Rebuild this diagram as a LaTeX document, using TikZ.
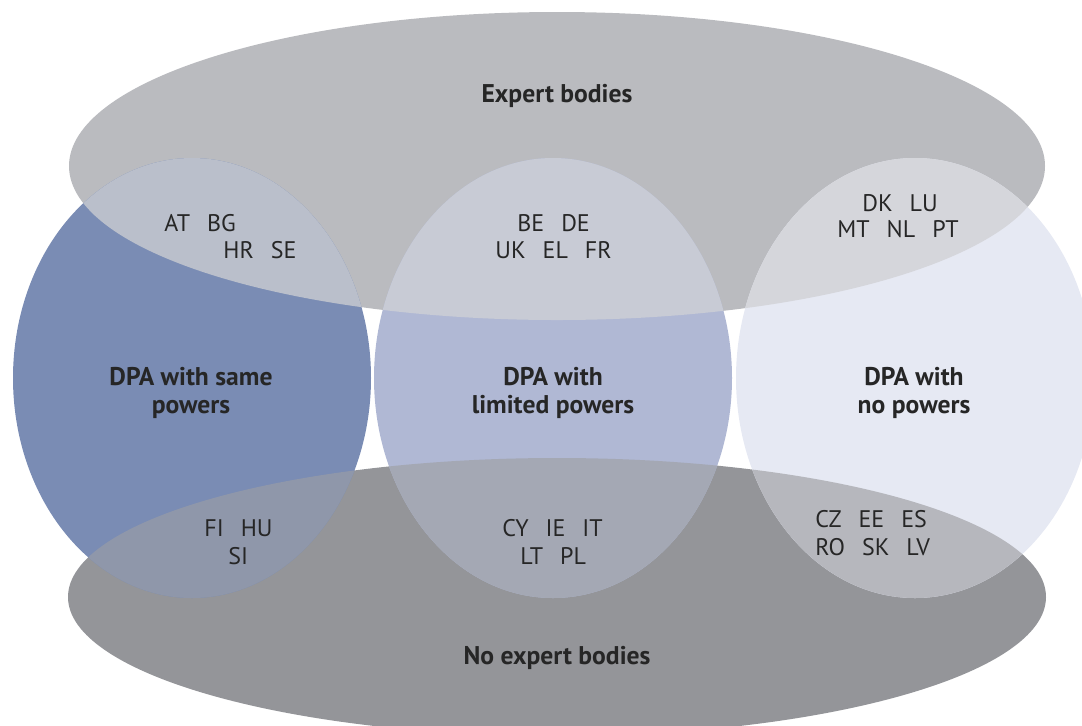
\documentclass[tikz,border=0pt]{standalone}
\usepackage{fontspec}
\setmainfont{PT Sans}
\usepackage{tikz}
\usetikzlibrary{positioning}

\definecolor{expertgrey}{RGB}{186,187,191}
\definecolor{noexpertgrey}{RGB}{148,149,153}
\definecolor{samepow}{RGB}{122,140,180}
\definecolor{limpow}{RGB}{176,184,212}
\definecolor{nopow}{RGB}{230,233,243}
\definecolor{expsame}{RGB}{186,191,203}
\definecolor{explim}{RGB}{200,203,213}
\definecolor{expno}{RGB}{213,214,219}
\definecolor{noexpsame}{RGB}{143,151,170}
\definecolor{noexplim}{RGB}{164,168,180}
\definecolor{noexpno}{RGB}{182,183,189}

\newcommand{\gap}{\hspace{8.5pt}}

\begin{document}
\begin{tikzpicture}[x=0.5pt, y=-0.5pt,
    code/.style={anchor=base west, inner sep=0pt, text=black!85, font=\fontsize{12}{14}\selectfont},
    title/.style={align=center, inner sep=0pt, text=black!85, font=\bfseries\fontsize{12.8}{14}\selectfont}]
            \clip (0,0) rectangle (1082,725);
            % the two expert-body ellipses
            \fill [expertgrey] (557,166) ellipse [x radius=488, y radius=154];
            \fill [noexpertgrey] (557,597) ellipse [x radius=489, y radius=139];
            % the three DPA circles
            \fill [samepow] (192,378) ellipse [x radius=179, y radius=220];
            \fill [limpow] (553,378) ellipse [x radius=179, y radius=220];
            \fill [nopow] (915,378) ellipse [x radius=179, y radius=220];
            % overlaps with the top ellipse
            \begin{scope}
                \clip (557,166) ellipse [x radius=488, y radius=154];
                \fill [expsame] (192,378) ellipse [x radius=179, y radius=220];
                \fill [explim] (553,378) ellipse [x radius=179, y radius=220];
                \fill [expno] (915,378) ellipse [x radius=179, y radius=220];
            \end{scope}
            % overlaps with the bottom ellipse
            \begin{scope}
                \clip (557,597) ellipse [x radius=489, y radius=139];
                \fill [noexpsame] (192,378) ellipse [x radius=179, y radius=220];
                \fill [noexplim] (553,378) ellipse [x radius=179, y radius=220];
                \fill [noexpno] (915,378) ellipse [x radius=179, y radius=220];
            \end{scope}
            \node [title] (expert) at (557,96) {Expert bodies};
            \node [title] (noexpert) at (557,658) {No expert bodies};
            \node [title] (same) at (191,393) {DPA with same\\powers};
            \node [title] (limited) at (553,393) {DPA with\\limited powers};
            \node [title] (none) at (914,393) {DPA with\\no powers};
            \node [code] (samea) at (164,231.5) {AT\gap BG};
            \node [code] (sameb) at (223,258) {HR\gap SE};
            \node [code] (lima) at (517,231.5) {BE\gap DE};
            \node [code] (limb) at (495,258) {UK\gap EL\gap FR};
            \node [code] (nonea) at (862,211) {DK\gap LU};
            \node [code] (noneb) at (837,237.5) {MT\gap NL\gap PT};
            \node [code] (samec) at (204,536.5) {FI\gap HU};
            \node [code] (samed) at (228,564) {SI};
            \node [code] (limc) at (502,536.5) {CY\gap IE\gap IT};
            \node [code] (limd) at (520,564) {LT\gap PL};
            \node [code] (nonec) at (815,527.5) {CZ\gap EE\gap ES};
            \node [code] (noned) at (815,555) {RO\gap SK\gap LV};
        \end{tikzpicture}
\end{document}
